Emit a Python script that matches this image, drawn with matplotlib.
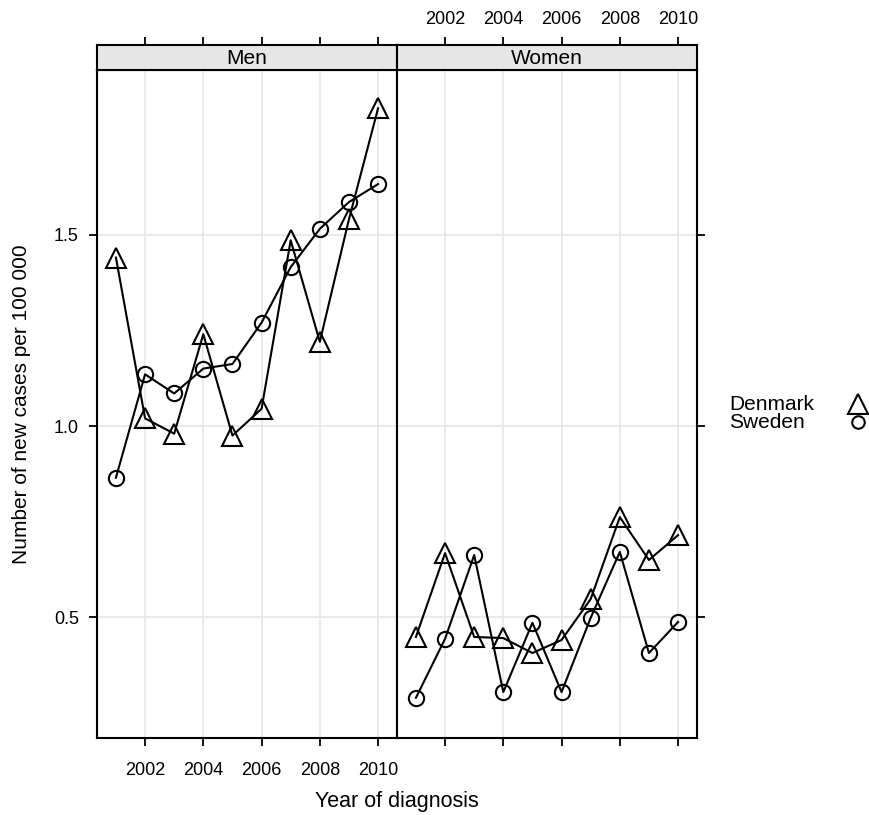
import numpy as np
import matplotlib.pyplot as plt

plt.rcParams["font.family"] = ["Liberation Sans", "DejaVu Sans"]

years = np.arange(2001, 2011)
men_denmark = [1.44, 1.02, 0.98, 1.24, 0.975, 1.045, 1.485, 1.22, 1.54, 1.83]
men_sweden = [0.865, 1.135, 1.085, 1.15, 1.162, 1.27, 1.415, 1.515, 1.585, 1.632]
women_denmark = [0.449, 0.668, 0.449, 0.446, 0.407, 0.441, 0.548, 0.762, 0.650, 0.715]
women_sweden = [0.290, 0.444, 0.663, 0.305, 0.486, 0.305, 0.499, 0.671, 0.407, 0.488]

panels = ["Men", "Women"]
countries = ["Denmark", "Sweden"]
markers = ["^", "o"]
xticks = [2002, 2004, 2006, 2008, 2010]
yticks = [0.5, 1.0, 1.5]

W, H = 870, 815
fig = plt.figure(figsize=(W / 100, H / 100), dpi=100)


def box(x0, y0, x1, y1):
    return [x0 / W, 1 - y1 / H, (x1 - x0) / W, (y1 - y0) / H]


xlim = (2000.35, 2010.65)
ylim = (0.185, 1.93)
data = {"Men": (men_denmark, men_sweden), "Women": (women_denmark, women_sweden)}
tick_kw = dict(direction="out", length=6, width=1.3, labelsize=13, colors="black")

for i, panel in enumerate(panels):
    x0 = 97 + i * 300
    ax = fig.add_axes(box(x0, 70, x0 + 300, 738))
    strip = fig.add_axes(box(x0, 45, x0 + 300, 70))

    ax.set_xlim(*xlim)
    ax.set_ylim(*ylim)
    for xt in xticks:
        ax.axvline(xt, color="#e6e6e6", lw=1.2, zorder=0)
    for yt in yticks:
        ax.axhline(yt, color="#e6e6e6", lw=1.2, zorder=0)

    for vals, m in zip(data[panel], markers):
        ms = 15 if m == "^" else 11
        ax.plot(years, vals, color="black", lw=1.5, marker=m, ms=ms,
                mfc="none", mec="black", mew=1.5, zorder=3)

    ax.set_xticks(xticks)
    ax.set_yticks(yticks)
    ax.tick_params(**tick_kw)
    ax.tick_params(axis="x", pad=11)
    ax.tick_params(axis="y", pad=7)
    if i == 0:
        ax.tick_params(axis="y", left=True, labelleft=True, right=False)
        ax.tick_params(axis="x", bottom=True, labelbottom=True)
        ax.set_yticklabels(["0.5", "1.0", "1.5"])
    else:
        ax.tick_params(axis="y", left=False, labelleft=False, right=True, labelright=False)
        ax.tick_params(axis="x", bottom=True, labelbottom=False)
    for s in ax.spines.values():
        s.set_linewidth(1.5)

    strip.set_xlim(*xlim)
    strip.set_ylim(0, 1)
    strip.set_facecolor("#e6e6e6")
    strip.set_yticks([])
    strip.set_xticks(xticks)
    strip.xaxis.set_ticks_position("top")
    strip.tick_params(axis="x", labeltop=(i == 1), labelbottom=False, bottom=False,
                      pad=6, **tick_kw)
    for s in strip.spines.values():
        s.set_linewidth(1.5)
    strip.text(0.5, 0.45, panel, transform=strip.transAxes, ha="center",
               va="center", fontsize=15)

fig.text(397 / W, 1 - 802 / H, "Year of diagnosis", ha="center", va="center",
         fontsize=15.5)
fig.text(22 / W, 1 - 404 / H, "Number of new cases per 100 000", ha="center",
         va="center", rotation=90, fontsize=15)

for j, (c, m) in enumerate(zip(countries, markers)):
    y = 1 - (404 + j * 18) / H
    fig.text(729 / W, y, c, ha="left", va="center", fontsize=15)
    ms = 14 if m == "^" else 9
    fig.lines.append(plt.Line2D([858 / W], [y], transform=fig.transFigure,
                                marker=m, ms=ms, mfc="none", mec="black", mew=1.5,
                                ls="none"))

fig.savefig("out.png", dpi=100)
